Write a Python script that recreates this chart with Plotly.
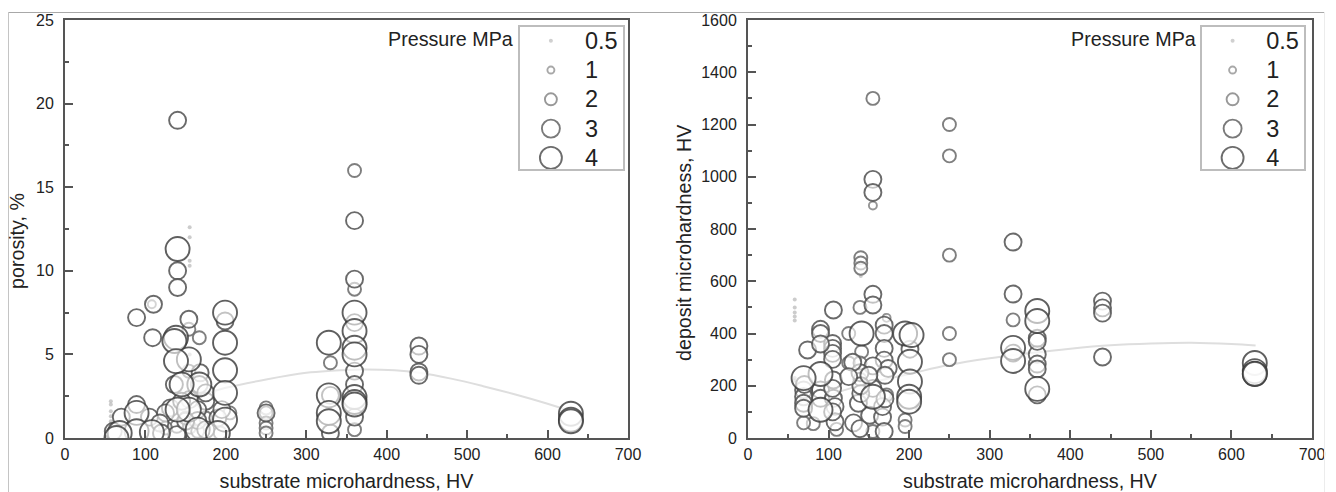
import plotly.graph_objects as go

PRESSURES = ["0.5", "1", "2", "3", "4"]

# Left panel: porosity (%) against substrate microhardness (HV), by pressure
por_05_x = [57, 57, 57, 57, 57, 57, 155, 155, 155, 155, 155, 165]
por_05_y = [0.8, 1.0, 1.3, 1.6, 2.0, 2.2, 10.3, 10.6, 12.0, 12.6, 5.0, 2.5]
por_1_x = [108, 155]
por_1_y = [8.0, 1.0]
por_2_x = [360, 250, 250, 250, 250, 250, 154, 167, 154, 330, 139, 155, 165, 193, 360, 360, 125, 150, 175, 205]
por_2_y = [16, 1.8, 1.5, 0.9, 0.6, 0.3, 6.5, 6.0, 4.0, 4.5, 0.7, 0.65, 0.4, 0.3, 8.9, 0.5, 0.6, 1.2, 1.2, 1.5]
por_3_x = [140, 140, 140, 360, 360, 89, 110, 109, 154, 199, 168, 136, 167, 89, 70, 105, 131, 125, 155, 175, 165, 165, 190, 139, 150, 175, 175, 360, 360, 360, 360, 330, 330, 440, 440, 440, 440, 250, 195, 118, 145, 60, 120]
por_3_y = [19, 10, 9, 13, 9.5, 7.2, 8.0, 6.0, 7.1, 7.0, 3.9, 3.2, 3.2, 2.0, 1.25, 1.25, 1.8, 1.5, 2.3, 2.2, 1.7, 1.05, 1.2, 0.2, 1.0, 2.7, 0.5, 6.9, 4.0, 3.2, 1.25, 2.55, 0.3, 5.5, 5.0, 3.95, 3.75, 1.5, 1.7, 0.9, 2.2, 0.4, 0.3]
por_4_x = [140, 138, 136, 154, 138, 167, 199, 199, 199, 199, 199, 154, 89, 89, 108, 68, 64, 165, 140, 145, 190, 360, 360, 360, 360, 360, 360, 360, 328, 328, 328, 328, 629, 629, 629]
por_4_y = [11.3, 6.0, 5.8, 4.7, 4.6, 3.2, 7.5, 5.7, 4.05, 2.7, 1.1, 1.7, 1.5, 0.4, 0.35, 0.3, 0.0, 0.5, 1.7, 3.2, 0.3, 7.5, 6.4, 5.4, 5.0, 2.45, 2.15, 2.0, 5.7, 2.55, 1.5, 1.0, 1.45, 1.1, 1.0]

# Right panel: deposit microhardness (HV) against substrate microhardness (HV), by pressure
dep_05_x = [58, 58, 58, 58, 58, 58, 210, 210, 57, 170, 140]
dep_05_y = [530, 500, 480, 465, 450, 230, 110, 125, 220, 470, 620]
dep_1_x = [155, 172, 172]
dep_1_y = [890, 165, 460]
dep_2_x = [155, 250, 250, 250, 250, 250, 140, 140, 140, 329, 139, 125, 125, 141, 139, 139, 110, 81, 69, 172, 195, 195, 155]
dep_2_y = [1300, 1200, 1080, 700, 400, 300, 690, 670, 650, 452, 500, 400, 287, 330, 287, 225, 33, 55, 58, 165, 69, 44, 25]
dep_3_x = [155, 155, 155, 155, 106, 90, 90, 74, 105, 105, 105, 105, 169, 169, 169, 169, 174, 90, 90, 90, 69, 69, 69, 69, 106, 106, 108, 108, 155, 155, 139, 131, 139, 151, 167, 167, 169, 137, 359, 359, 359, 359, 359, 359, 440, 440, 440, 440, 329, 329, 329, 201, 70, 140, 140, 170, 105, 105, 130, 170, 150, 125]
dep_3_y = [990, 940, 550, 509, 490, 416, 400, 337, 362, 343, 324, 301, 432, 400, 343, 298, 266, 360, 184, 152, 184, 158, 133, 114, 222, 152, 120, 62, 276, 190, 250, 58, 36, 87, 80, 120, 25, 133, 320, 283, 264, 165, 382, 370, 524, 498, 478, 310, 750, 551, 325, 340, 205, 170, 200, 150, 190, 100, 290, 240, 240, 235]
dep_4_x = [141, 90, 201, 201, 69, 195, 203, 200, 200, 155, 90, 329, 329, 359, 359, 359, 629, 629, 629, 629]
dep_4_y = [400, 245, 292, 216, 229, 400, 394, 158, 139, 158, 108, 345, 295, 486, 448, 188, 287, 256, 245, 246]

# Fitted curves
por_fit_x = [120, 135, 150, 175, 200, 250, 300, 330, 370, 410, 440, 480, 520, 560, 600, 630]
por_fit_y = [1.5, 1.9, 2.25, 2.65, 3.0, 3.5, 3.9, 4.02, 4.1, 4.05, 3.9, 3.55, 3.1, 2.6, 2.05, 1.6]
dep_fit_x = [60, 100, 150, 200, 250, 300, 350, 400, 450, 500, 550, 600, 630]
dep_fit_y = [130, 165, 210, 245, 280, 305, 325, 342, 355, 362, 365, 360, 354]

SIZES = [4, 8, 13, 17, 24]
COLORS = ["rgba(170,170,170,0.6)", "rgba(130,130,130,0.85)", "rgba(105,105,105,0.85)",
          "rgba(80,80,80,0.85)", "rgba(55,55,55,0.8)"]
LEG_COLORS = ["#d0d0d0", "#a8a8a8", "#989898", "#7a7a7a", "#6c6c6c"]
LEG_SIZES = [4, 7, 12, 18, 22]
LEG_ROWS = [3.97, 2.97, 1.97, 0.97, -0.03]
LEG_TEXT_ROWS = [3.9, 2.9, 1.9, 0.9, -0.1]
FILL = "rgba(255,255,255,0.6)"
FONT = "Liberation Sans"
INK = "#222222"
AXIS = "#555555"
TITLE_SIZE = 19.7
W, H = 1336, 492

por_series = [(por_05_x, por_05_y), (por_1_x, por_1_y), (por_2_x, por_2_y), (por_3_x, por_3_y), (por_4_x, por_4_y)]
dep_series = [(dep_05_x, dep_05_y), (dep_1_x, dep_1_y), (dep_2_x, dep_2_y), (dep_3_x, dep_3_y), (dep_4_x, dep_4_y)]


def fx(px):
    return px / W


def fy(py):
    return 1 - py / H


fig = go.Figure()


def add_panel(series, fit_x, fit_y, xa, ya):
    fig.add_trace(go.Scatter(x=fit_x, y=fit_y, mode="lines", xaxis=xa, yaxis=ya, showlegend=False,
                             line=dict(color="#dedede", width=2, shape="spline")))
    for i, (xs, ys) in enumerate(series):
        marker = (dict(size=SIZES[i], color=FILL, line=dict(color=COLORS[i], width=1.9)) if i else
                  dict(size=SIZES[i], color=COLORS[i], line=dict(width=0)))
        fig.add_trace(go.Scatter(x=xs, y=ys, mode="markers", xaxis=xa, yaxis=ya, showlegend=False,
                                 name=PRESSURES[i] + " MPa", marker=marker))


def add_legend(xa, ya):
    for p, r, tr, s, c in zip(PRESSURES, LEG_ROWS, LEG_TEXT_ROWS, LEG_SIZES, LEG_COLORS):
        marker = dict(size=s, color="rgba(0,0,0,0)", line=dict(color=c, width=1.9)) if p != "0.5" else dict(size=s, color=c)
        fig.add_trace(go.Scatter(x=[0.3], y=[r], mode="markers", xaxis=xa, yaxis=ya, showlegend=False,
                                 cliponaxis=False, marker=marker))
        fig.add_trace(go.Scatter(x=[0.63], y=[tr], mode="text", xaxis=xa, yaxis=ya, showlegend=False,
                                 cliponaxis=False, text=[p], textposition="middle right",
                                 textfont=dict(size=23.5, family=FONT, color=INK)))


add_panel(por_series, por_fit_x, por_fit_y, "x", "y")
add_panel(dep_series, dep_fit_x, dep_fit_y, "x2", "y2")
add_legend("x3", "y3")
add_legend("x4", "y4")


def xaxis(left, right, title):
    return dict(domain=[fx(left), fx(right)], range=[0, 700], dtick=100, ticks="inside", ticklen=8, tickwidth=2,
                tickcolor=AXIS, ticklabelstandoff=1, showgrid=False, zeroline=False, showline=True, mirror=True,
                linecolor=AXIS, linewidth=2, tickfont=dict(size=16, family=FONT, color=INK),
                minor=dict(ticks="inside", ticklen=4, tickwidth=2, tickcolor=AXIS, dtick=50, showgrid=False),
                title=dict(text=title, standoff=16, font=dict(size=TITLE_SIZE, family=FONT, color=INK)))


def yaxis(top_value, major, minor):
    return dict(domain=[fy(438), fy(20)], range=[0, top_value], dtick=major, ticks="inside", ticklen=8,
                tickwidth=2, tickcolor=AXIS, ticklabelstandoff=6, showgrid=False, zeroline=False, showline=True,
                mirror=True, linecolor=AXIS, linewidth=2, tickfont=dict(size=16, family=FONT, color=INK),
                minor=dict(ticks="inside", ticklen=4, tickwidth=2, tickcolor=AXIS, dtick=minor, showgrid=False))


def legend_axes(x0, x1, xname, yname):
    common = dict(showline=True, mirror=True, linecolor="#bdbdbd", linewidth=2, showticklabels=False,
                  ticks="", showgrid=False, zeroline=False, fixedrange=True)
    return (dict(domain=[fx(x0), fx(x1)], range=[0, 1], anchor=yname, **common),
            dict(domain=[fy(169), fy(27)], range=[-0.41, 4.44], anchor=xname, **common))


lx3, ly3 = legend_axes(520, 623, "x3", "y3")
lx4, ly4 = legend_axes(1202, 1304, "x4", "y4")


def frame(x0, y0, x1, y1, color):
    return dict(type="line", xref="paper", yref="paper", x0=fx(x0), x1=fx(x1), y0=fy(y0), y1=fy(y1),
                line=dict(color=color, width=1))


def text(px, py, s, angle=0):
    return dict(xref="paper", yref="paper", x=fx(px), y=fy(py), text=s, showarrow=False, textangle=angle,
                xanchor="center", yanchor="middle", font=dict(size=TITLE_SIZE, family=FONT, color=INK))


fig.update_layout(
    width=W, height=H, margin=dict(l=0, r=0, t=0, b=0, pad=0, autoexpand=False), autosize=False,
    paper_bgcolor="white", plot_bgcolor="white", showlegend=False,
    xaxis=dict(anchor="y", **xaxis(65, 628, "substrate microhardness, HV")),
    yaxis=dict(anchor="x", **yaxis(25, 5, 2.5)),
    xaxis2=dict(anchor="y2", **xaxis(748, 1312, "substrate microhardness, HV")),
    yaxis2=dict(anchor="x2", **yaxis(1600, 200, 100)),
    xaxis3=lx3, yaxis3=ly3, xaxis4=lx4, yaxis4=ly4,
    shapes=[frame(8, 12.5, 1324, 12.5, "#a8a8a8"), frame(8.5, 12, 8.5, 492, "#c4c4c4"),
            frame(1324.5, 12, 1324.5, 492, "#ececec")],
    annotations=[text(17, 241, "porosity, %", angle=-90), text(684, 243, "deposit microhardness, HV", angle=-90),
                 text(450, 39, "Pressure MPa"), text(1133, 39, "Pressure MPa")],
)

fig.write_html("out.html", include_plotlyjs=True, config={"displayModeBar": False},
               post_script="document.documentElement.style.margin='0';document.body.style.margin='0';")
